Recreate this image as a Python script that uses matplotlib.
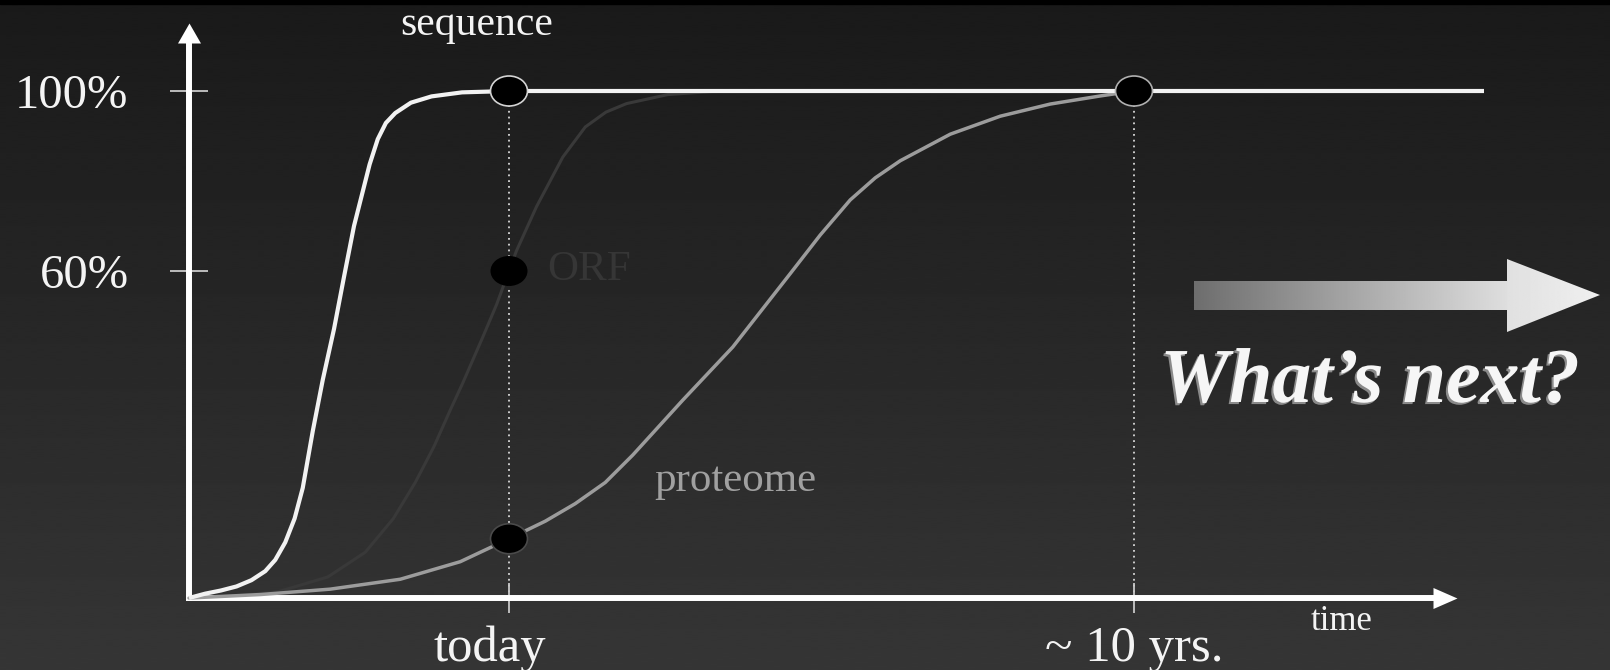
import numpy as np
import matplotlib
matplotlib.use("Agg")
import matplotlib.pyplot as plt
from matplotlib.patches import Ellipse, Polygon, Rectangle
from matplotlib.transforms import ScaledTranslation
import matplotlib.patheffects as pe

plt.rcParams["font.family"] = ["Liberation Serif", "DejaVu Serif"]

# ---- data: share of each genome layer known over time (years relative to today) ----
seq_years = [-5.12, -4.86, -4.61, -4.36, -4.12, -3.90, -3.74, -3.58, -3.43, -3.30,
             -3.14, -2.98, -2.80, -2.64, -2.48, -2.23, -2.10, -1.97, -1.82, -1.57,
             -1.24, -0.75, 0.0, 15.6]
seq_pct = [-12.67, -11.7, -11.0, -10.1, -8.7, -6.7, -4.2, -0.3, 5.0, 11.8,
           24.4, 35.8, 47.1, 58.7, 70.0, 83.7, 89.3, 92.9, 95.1, 97.4,
           98.8, 99.7, 100.0, 100.0]

orf_years = [-5.12, -4.5, -3.7, -2.9, -2.3, -1.85, -1.5, -1.2, -0.94, -0.74,
             -0.42, -0.2, 0.0, 0.12, 0.44, 0.86, 1.22, 1.55, 1.88, 2.54, 3.36]
orf_pct = [-12.67, -12.3, -11.3, -8.0, -2.5, 5.0, 13.0, 21.0, 29.1, 35.1,
           45.3, 52.5, 60.0, 64.5, 74.3, 85.3, 92.0, 95.3, 97.2, 99.2, 100.0]

prot_years = [-5.12, -3.98, -2.86, -1.74, -0.78, 0.0, 0.58, 1.06, 1.54, 1.98,
              2.78, 3.58, 4.51, 4.98, 5.46, 5.86, 6.26, 7.06, 7.86, 8.66, 9.46, 10.0]
prot_pct = [-12.67, -11.9, -10.7, -8.5, -4.6, 0.5, 4.4, 8.3, 13.0, 19.1,
            31.3, 43.1, 59.6, 68.0, 75.8, 80.7, 84.5, 90.4, 94.4, 97.1, 98.9, 100.0]

# milestone markers
dot_years = [0, 0, 0, 10]
dot_pct = [100, 60, 0.5, 100]
dot_edges = ["#d4d4d4", "none", "#4a4a4a", "#b0b0b0"]

y_ticks = [60, 100]
y_tick_labels = ["60%", "100%"]
x_ticks = [0, 10]
x_tick_labels = ["today", "~ 10 yrs."]

XLIM = (-5.12, 14.784)
YLIM = (-12.667, 110.667)

W, H = 1610, 670
fig = plt.figure(figsize=(W / 100, H / 100), dpi=100)

# ---- background layer (layout coordinates in pixels) ----
bg = fig.add_axes([0, 0, 1, 1])
shade = np.linspace(0.10, 0.21, 256)[:, None]
bg.imshow(shade, cmap="gray", vmin=0, vmax=1, extent=(0, W, H, 0),
          aspect="auto", interpolation="bilinear")
bg.add_patch(Rectangle((0, 0), W, 4, color="black"))

arrow_shape = Polygon([(1194, 281), (1507, 281), (1507, 259), (1600, 295),
                       (1507, 332), (1507, 310), (1194, 310)], closed=True,
                      facecolor="none", edgecolor="none")
bg.add_patch(arrow_shape)
ramp = np.concatenate([np.linspace(0.43, 0.87, 200), np.linspace(0.88, 0.94, 60)])[None, :]
ramp_img = bg.imshow(ramp, cmap="gray", vmin=0, vmax=1, extent=(1194, 1600, 332, 259),
                     aspect="auto", interpolation="bilinear")
ramp_img.set_clip_path(arrow_shape)
bg.set_xlim(0, W)
bg.set_ylim(H, 0)
bg.axis("off")

# ---- main chart ----
ax = fig.add_axes([189 / W, (H - 598) / H, (1433 - 189) / W, (598 - 43) / H])
ax.set_xlim(*XLIM)
ax.set_ylim(*YLIM)
ax.patch.set_visible(False)
for side in ("top", "right"):
    ax.spines[side].set_visible(False)
for side in ("left", "bottom"):
    ax.spines[side].set_color("white")
    ax.spines[side].set_linewidth(4.3)
    ax.spines[side].set_capstyle("projecting")

# arrow heads on the axes
up_head = [(-11.5, 0), (11.5, 0), (0, 20), (-11.5, 0)]
right_head = [(0, -10.5), (0, 10.5), (24, 0), (0, -10.5)]
ax.plot([0], [1], transform=ax.transAxes, marker=up_head, ms=28.8,
        color="white", mew=0, clip_on=False)
ax.plot([1], [0], transform=ax.transAxes, marker=right_head, ms=34.56,
        color="white", mew=0, clip_on=False)

ax.set_yticks(y_ticks, y_tick_labels)
ax.set_xticks(x_ticks, x_tick_labels)
ax.tick_params(axis="y", direction="inout", length=28, width=1.3, color="#c8c8c8",
               pad=29.5, labelsize=35, labelcolor="#f4f4f4")
ax.tick_params(axis="x", direction="inout", length=21.6, width=1.3, color="#c8c8c8",
               pad=9, labelsize=36.5, labelcolor="#f4f4f4")
today_lbl = ax.get_xticklabels()[0]
today_lbl.set_transform(today_lbl.get_transform()
                        + ScaledTranslation(-0.19, 0, fig.dpi_scale_trans))

# curves
ax.plot(orf_years, orf_pct, color="#393939", lw=2.2, zorder=2,
        solid_capstyle="round", solid_joinstyle="round", clip_on=False)
ax.plot(prot_years, prot_pct, color="#9c9c9c", lw=2.5, zorder=3,
        solid_capstyle="round", solid_joinstyle="round", clip_on=False)
ax.plot(seq_years, seq_pct, color="#f2f2f2", lw=3.0, zorder=4,
        solid_capstyle="butt", solid_joinstyle="round", clip_on=False)

# dotted guides from the milestones down to the time axis
ax.vlines(x_ticks, YLIM[0], [100, 100], colors="#d8d8d8", lw=1.3,
          linestyles=(0, (1, 2.2)), zorder=1)

# milestone dots
for xv, yv, ec in zip(dot_years, dot_pct, dot_edges):
    ax.add_patch(Ellipse((xv, yv), 37 / 62.5, 30 / 4.5, facecolor="black",
                         edgecolor=ec, lw=1.2, zorder=6, clip_on=False))

# curve labels
ax.text(-0.51, 112.4, "sequence", ha="center", va="baseline", fontsize=30,
        color="#f4f4f4", clip_on=False)
ax.text(0.61, 58.0, "ORF", ha="left", va="baseline", fontsize=31, color="#363636")
ax.text(2.32, 11.1, "proteome", ha="left", va="baseline", fontsize=31, color="#a0a0a0")

fig.text(1342 / W, (H - 630) / H, "time", ha="center", va="baseline",
         fontsize=25, color="#f4f4f4")

fig.text(1370 / W, (H - 402) / H, "What\u2019s next?", ha="center", va="baseline",
         fontsize=56, fontweight="bold", fontstyle="italic", color="#f6f6f6",
         path_effects=[pe.withSimplePatchShadow(offset=(-1.5, -1.5),
                                                shadow_rgbFace="#8a8a8a", alpha=1.0)])

fig.savefig("out.png", dpi=100, facecolor="#222222")
